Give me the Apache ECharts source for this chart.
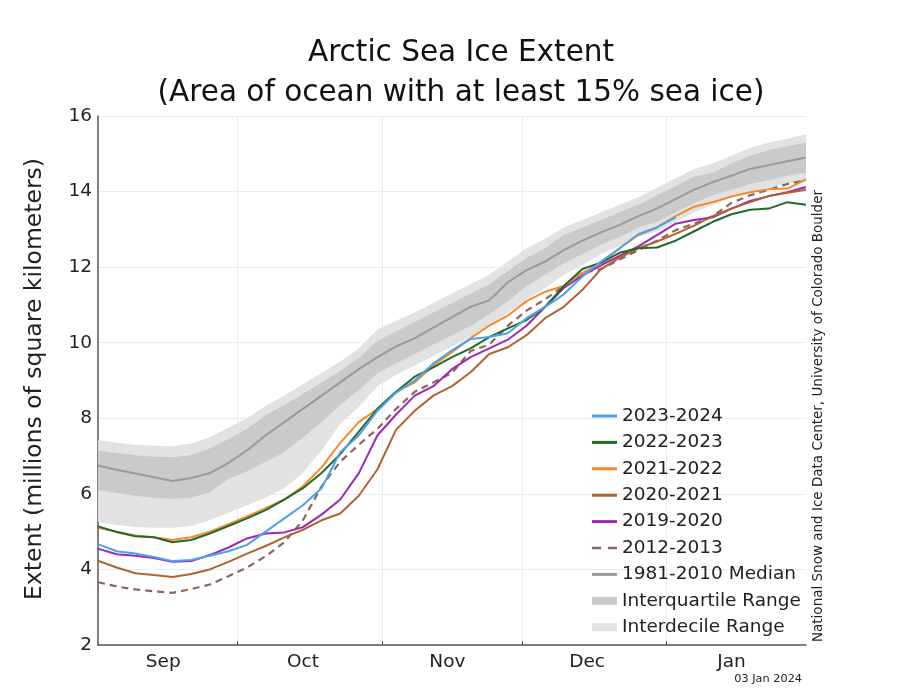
<!DOCTYPE html>
<html><head><meta charset="utf-8">
<script src="https://cdn.jsdelivr.net/npm/echarts@6/dist/echarts.min.js"></script>
<style>html,body{margin:0;padding:0;background:#fff}#c{width:900px;height:697px}</style>
</head><body><div id="c"></div>
<script>
// Day index: 0 = Sep 1 ... 152 = Jan 31
const DAYS = [0,4,8,12,16,20,24,28,32,36,40,44,48,52,56,60,64,68,72,76,80,84,88,92,96,100,104,108,112,116,120,124,128,132,136,140,144,148,152];
const MONTH_NAMES = ['Sep','Oct','Nov','Dec','Jan'];
const MONTH_LABEL_DAYS = [14,44,75,105,136];
const MONTH_START_DAYS = [30,61,91,122];

const MEDIAN  = [6.75,6.64,6.54,6.44,6.34,6.42,6.55,6.82,7.15,7.55,7.9,8.25,8.6,8.95,9.3,9.62,9.9,10.12,10.4,10.68,10.95,11.12,11.6,11.92,12.15,12.45,12.7,12.92,13.12,13.35,13.55,13.8,14.05,14.25,14.42,14.6,14.7,14.8,14.9];
const IQ_LOW  = [6.1,6.02,5.95,5.9,5.87,5.9,6.05,6.4,6.6,6.85,7.1,7.5,7.9,8.35,8.75,9.2,9.45,9.7,9.95,10.2,10.45,10.75,11.1,11.5,11.8,12.1,12.35,12.6,12.8,13.05,13.2,13.45,13.7,13.9,14.05,14.2,14.3,14.42,14.5];
const IQ_HIGH = [7.15,7.08,7.02,6.98,6.97,7.03,7.2,7.45,7.72,8.08,8.35,8.65,8.95,9.25,9.6,10.05,10.3,10.55,10.8,11.05,11.3,11.55,11.9,12.25,12.5,12.85,13.05,13.25,13.45,13.65,13.9,14.15,14.4,14.5,14.75,14.95,15.1,15.2,15.3];
const ID_LOW  = [5.25,5.18,5.12,5.1,5.1,5.15,5.3,5.5,5.7,5.9,6.15,6.55,7.15,7.85,8.3,8.85,9.15,9.4,9.65,9.9,10.15,10.4,10.8,11.15,11.45,11.8,12.05,12.35,12.55,12.8,12.95,13.2,13.45,13.65,13.85,14.0,14.1,14.2,14.28];
const ID_HIGH = [7.42,7.35,7.3,7.27,7.26,7.33,7.5,7.75,8.0,8.33,8.6,8.9,9.2,9.5,9.85,10.35,10.58,10.8,11.05,11.3,11.55,11.8,12.15,12.5,12.75,13.05,13.25,13.45,13.65,13.85,14.1,14.35,14.6,14.75,14.95,15.15,15.3,15.4,15.52];

const S_2023_2024 = [4.67,4.48,4.42,4.33,4.22,4.25,4.36,4.48,4.65,5.0,5.35,5.7,6.15,7.1,7.55,8.2,8.68,9.0,9.45,9.8,10.1,10.15,10.25,10.65,10.95,11.28,11.75,12.15,12.5,12.87,13.05,13.32];
const S_2022_2023 = [5.14,4.99,4.88,4.85,4.72,4.78,4.95,5.15,5.35,5.57,5.85,6.15,6.55,7.05,7.65,8.25,8.7,9.1,9.35,9.62,9.85,10.15,10.38,10.6,10.95,11.5,11.95,12.12,12.38,12.5,12.52,12.7,12.95,13.2,13.4,13.52,13.55,13.72,13.65];
const S_2021_2022 = [5.1,5.0,4.9,4.85,4.78,4.85,5.0,5.2,5.4,5.62,5.85,6.2,6.7,7.35,7.9,8.25,8.7,8.95,9.4,9.75,10.12,10.45,10.72,11.1,11.35,11.5,11.85,12.1,12.5,12.85,13.05,13.35,13.6,13.72,13.87,13.98,14.06,14.08,14.32];
const S_2020_2021 = [4.23,4.05,3.9,3.85,3.8,3.88,4.0,4.2,4.42,4.62,4.85,5.05,5.3,5.48,5.95,6.65,7.7,8.2,8.6,8.85,9.22,9.7,9.88,10.2,10.65,10.95,11.4,11.95,12.25,12.5,12.68,12.88,13.1,13.35,13.55,13.72,13.88,13.97,14.05];
const S_2019_2020 = [4.55,4.4,4.36,4.3,4.2,4.22,4.38,4.58,4.82,4.95,4.98,5.12,5.45,5.85,6.55,7.55,8.1,8.6,8.85,9.3,9.62,9.85,10.08,10.45,10.95,11.45,11.78,12.05,12.3,12.55,12.85,13.15,13.25,13.32,13.55,13.75,13.88,13.98,14.12];
const S_2012_2013 = [3.66,3.55,3.47,3.42,3.38,3.48,3.6,3.82,4.05,4.35,4.72,5.3,6.2,6.85,7.3,7.72,8.25,8.7,8.95,9.2,9.78,9.95,10.45,10.85,11.15,11.5,11.85,11.95,12.2,12.45,12.7,12.98,13.15,13.35,13.7,13.9,14.05,14.2,14.3];

const LIGHT = '#e2e2e2', DARK = '#cacaca', GRIDC = '#ececec';
const FONT = 'DejaVu Sans';

function pairs(vals){ return vals.map((v,i)=>[DAYS[i], v]); }

function lineSeries(name, vals, color, extra){
  return Object.assign({
    name, type:'line', data: pairs(vals), symbol:'none', showSymbol:false,
    color, itemStyle:{color}, lineStyle:{color, width:2}, z:5, silent:true
  }, extra||{});
}

function bandSeries(name, low, high, color, z){
  return {
    name, type:'custom', silent:true, z, color, itemStyle:{color},
    data: DAYS.map((d,i)=>[d, low[i], high[i]]),
    encode:{x:0, y:[1,2]},
    clip:true,
    renderItem:(params, api)=>{
      if (params.dataIndex !== 0) return null;
      const up = DAYS.map((d,i)=>api.coord([d, high[i]]));
      const lo = DAYS.map((d,i)=>api.coord([d, low[i]])).reverse();
      return {type:'polygon', shape:{points: up.concat(lo)}, style:{fill:color}};
    }
  };
}

const chart = echarts.init(document.getElementById('c'), null, {renderer:'canvas'});
chart.setOption({
  animation:false,
  backgroundColor:'#fff',
  textStyle:{fontFamily:FONT},
  title:{
    text:'Arctic Sea Ice Extent\n(Area of ocean with at least 15% sea ice)',
    left:456, top:28, textAlign:'center',
    textStyle:{fontSize:29.5, fontWeight:'normal', color:'#111', lineHeight:40, fontFamily:FONT}
  },
  grid:{left:98, right:94, top:116, bottom:52, containLabel:false},
  xAxis:{
    type:'value', min:0, max:152,
    axisLine:{show:true, lineStyle:{color:'#555', width:1.5}},
    axisTick:{show:true, inside:true, length:4, customValues:MONTH_START_DAYS, lineStyle:{color:'#555'}},
    axisLabel:{customValues:MONTH_LABEL_DAYS, formatter:v=>MONTH_NAMES[MONTH_LABEL_DAYS.indexOf(v)], fontSize:18.5, color:'#222', margin:8, fontFamily:FONT},
    splitLine:{show:false}
  },
  yAxis:{
    type:'value', min:2, max:16, interval:2,
    axisLine:{show:true, lineStyle:{color:'#555', width:1.5}},
    axisTick:{show:false},
    axisLabel:{fontSize:18.5, color:'#222', margin:6, fontFamily:FONT},
    splitLine:{show:true, lineStyle:{color:GRIDC, width:1}}
  },
  legend:[{
    orient:'vertical', left:592, top:406, padding:0,
    itemWidth:25, itemHeight:3, itemGap:6.4,
    textStyle:{fontSize:18.5, color:'#222', lineHeight:20, fontFamily:FONT},
    data:[
      {name:'2023-2024', icon:'rect'},
      {name:'2022-2023', icon:'rect'},
      {name:'2021-2022', icon:'rect'},
      {name:'2020-2021', icon:'rect'},
      {name:'2019-2020', icon:'rect'},
      {name:'2012-2013', icon:'path://M0,0h8v2h-8z M14,0h8v2h-8z'},
      {name:'1981-2010 Median', icon:'rect'}
    ]
  },{
    orient:'vertical', left:592, top:590.8, padding:0,
    itemWidth:25, itemHeight:8, itemGap:6.4,
    textStyle:{fontSize:18.5, color:'#222', lineHeight:20, fontFamily:FONT},
    data:[
      {name:'Interquartile Range', icon:'rect'},
      {name:'Interdecile Range', icon:'rect'}
    ]
  }],
  graphic:[
    {type:'text', x:35, y:379, rotation:Math.PI/2, style:{text:'Extent (millions of square kilometers)', fontSize:23.5, fill:'#222', textAlign:'center', textVerticalAlign:'middle', fontFamily:FONT}},
    {type:'text', x:818, y:416, rotation:Math.PI/2, style:{text:'National Snow and Ice Data Center, University of Colorado Boulder', fontSize:13.5, fill:'#222', textAlign:'center', textVerticalAlign:'middle', fontFamily:FONT}},
    {type:'text', x:802, y:679, style:{text:'03 Jan 2024', fontSize:11.3, fill:'#222', textAlign:'right', textVerticalAlign:'middle', fontFamily:FONT}}
  ],
  series:[
    {name:'_monthGrid', type:'line', data:[], z:0, silent:true,
     markLine:{z:0, silent:true, symbol:'none', label:{show:false}, animation:false,
       lineStyle:{color:GRIDC, width:1, type:'solid'},
       data: MONTH_START_DAYS.map(d=>({xAxis:d}))}},
    bandSeries('Interdecile Range', ID_LOW, ID_HIGH, LIGHT, 1),
    bandSeries('Interquartile Range', IQ_LOW, IQ_HIGH, DARK, 2),
    lineSeries('1981-2010 Median', MEDIAN, '#9a9a9a', {z:3}),
    lineSeries('2012-2013', S_2012_2013, '#8a675c', {lineStyle:{color:'#8a675c', width:2.2, type:[7,5]}}),
    lineSeries('2019-2020', S_2019_2020, '#9c29b3'),
    lineSeries('2020-2021', S_2020_2021, '#b0632f'),
    lineSeries('2021-2022', S_2021_2022, '#f5892c'),
    lineSeries('2022-2023', S_2022_2023, '#236a2a'),
    lineSeries('2023-2024', S_2023_2024, '#4aa2f0')
  ]
});
</script></body></html>
